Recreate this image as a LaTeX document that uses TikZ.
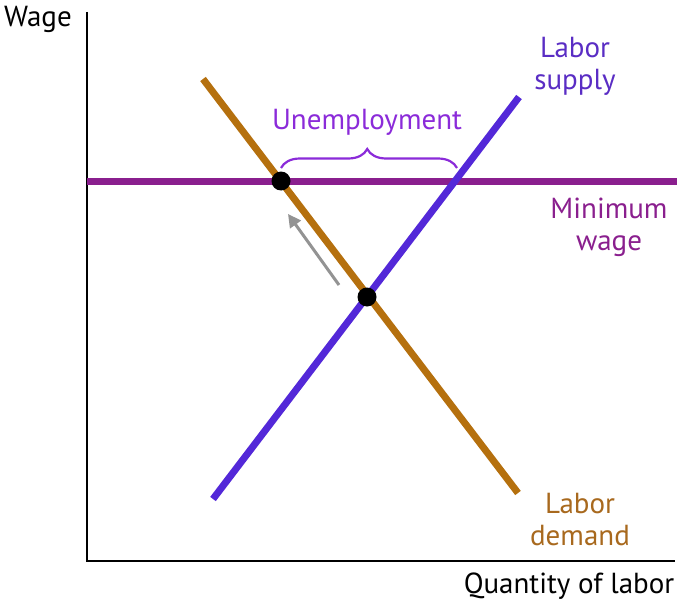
\documentclass[tikz,border=0pt]{standalone}
\usepackage{fontspec}
\setmainfont{PT Sans}
\usetikzlibrary{decorations.pathreplacing,arrows.meta}
\definecolor{minw}{HTML}{8A1F8E}
\definecolor{dem}{HTML}{B5700E}
\definecolor{sup}{HTML}{5328D8}
\definecolor{unemp}{HTML}{8B2BD9}
\definecolor{supt}{HTML}{5A2DC4}
\definecolor{dmt}{HTML}{A8691E}
\tikzset{
  lbl/.style={font=\fontsize{29}{32}\selectfont, align=center, inner sep=0pt},
  curve/.style={line width=7pt},
  dot/.style={circle, fill=black, minimum size=19pt, inner sep=0pt},
}
\begin{document}
\begin{tikzpicture}[x=1pt,y=-1pt]
\useasboundingbox (0,0) rectangle (677,607);
% axes
\coordinate (yt) at (87,12);
\coordinate (o) at (87,561);
\coordinate (xr) at (675,561);
\draw[line width=2pt] (yt) -- (o) -- (xr);
% minimum wage
\coordinate (mwl) at (87,181);
\coordinate (mwr) at (677,181);
\draw[curve, minw] (mwl) -- (mwr);
% demand
\coordinate (d1) at (203,79);
\coordinate (d2) at (518,493);
\draw[curve, dem] (d1) -- (d2);
% supply
\coordinate (s1) at (213,499);
\coordinate (s2) at (519,97);
\draw[curve, sup] (s1) -- (s2);
% dots
\node[dot] (p1) at (281,181) {};
\node[dot] (p2) at (367,297) {};
% arrow
\coordinate (a1) at (339,285);
\coordinate (a2) at (288,214);
\draw[line width=3pt, gray!85, -{Triangle[width=13pt,length=13pt]}] (a1) -- (a2);
% brace
\coordinate (b1) at (281,168);
\coordinate (b2) at (457,168);
\draw[unemp, line width=2.2pt, decorate, decoration={brace, amplitude=19pt, aspect=0.49}] (b1) -- (b2);
% labels
\node[lbl, text=unemp] (tu) at (367,122) {Unemployment};
\node[lbl, text=supt] (ts) at (575,66) {Labor\\supply};
\node[lbl, text=minw] (tm) at (609,227) {Minimum\\wage};
\node[lbl, text=dmt] (td) at (580,520) {Labor\\demand};
\node[lbl, text=black] (tq) at (569,586) {Quantity of labor};
\node[lbl, text=black] (tw) at (38,19) {Wage};
\end{tikzpicture}
\end{document}
